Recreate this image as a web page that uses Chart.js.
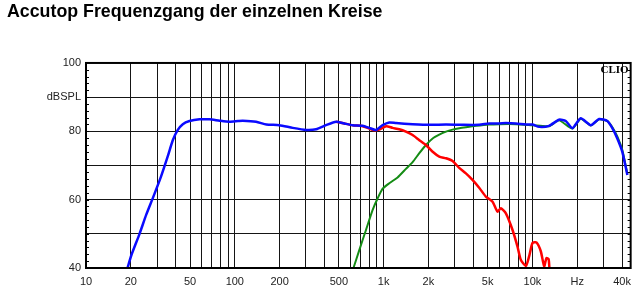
<!DOCTYPE html>
<html>
<head>
<meta charset="utf-8">
<title>Accutop Frequenzgang</title>
<script src="https://cdn.jsdelivr.net/npm/chart.js@4.4.1/dist/chart.umd.min.js"></script>
<style>
  body { margin: 0; background: #fff; }
  #wrap { width: 638px; height: 298px; }
</style>
</head>
<body>
<div id="wrap"><canvas id="grafico" width="638" height="298"></canvas></div>
<script>
// DATA
const titleText = "Accutop Frequenzgang der einzelnen Kreise";

const xTickValues = [10, 20, 30, 40, 50, 60, 70, 80, 90,
  100, 200, 300, 400, 500, 600, 700, 800, 900,
  1000, 2000, 3000, 4000, 5000, 6000, 7000, 8000, 9000,
  10000, 20000, 30000, 40000];
const xTickLabels = ["10", "20", "", "", "50", "", "", "", "",
  "100", "200", "", "", "500", "", "", "", "",
  "1k", "2k", "", "", "5k", "", "", "", "",
  "10k", "Hz", "", "40k"];

const yTickValues = [40, 50, 60, 70, 80, 90, 100];
const yTickLabels = ["40", "", "60", "", "80", "dBSPL", "100"];

// gesamt (blau)
const totalFreq = [19, 20.2, 22.9, 25.4, 28.2, 32, 35.5, 38.3, 41.4, 44.7, 49.6, 57.9, 67.6, 79, 92,
  105, 113, 139, 163, 199, 245, 301, 352, 410, 479, 544, 619, 722, 801, 889, 985,
  1091, 1211, 1566, 2028, 2625, 3391, 4386, 5117, 5970, 6630, 7740, 9040,
  10000, 11090, 12940, 15100, 16750, 18550, 21100, 24650, 28050, 31870, 34430, 37170, 40170, 43440];
const totalDb = [40, 43.8, 50.0, 55.6, 60.6, 66.9, 72.8, 77.4, 80.4, 82.1, 83.0, 83.5, 83.5, 83.1, 82.8,
  83.0, 83.1, 82.8, 82.0, 81.8, 81.0, 80.4, 80.6, 81.8, 82.8, 82.3, 81.8, 81.6, 81.0, 80.4, 81.8,
  82.6, 82.4, 82.1, 81.9, 82.0, 81.9, 81.9, 82.3, 82.3, 82.4, 82.3, 82.0,
  82.0, 81.3, 81.6, 83.4, 83.0, 80.9, 83.8, 81.8, 83.6, 83.0, 80.9, 77.9, 74.0, 67.2];

// tiefmitteltöner (rot)
const wooferFreq = [479, 544, 619, 722, 801, 863, 935, 1040, 1148, 1273, 1412, 1566, 1737, 1926,
  2135, 2365, 2625, 2904, 3220, 3571, 3955, 4386, 4862, 5395, 5820, 6133, 6630, 7340, 7930,
  8350, 9040, 9500, 10000, 10630, 11380, 11990, 12420, 12840, 13000];
const wooferDb = [82.8, 82.3, 81.8, 81.5, 80.8, 80.3, 80.5, 81.5, 81.0, 80.6, 79.9, 78.9, 77.4, 76.0,
  74.0, 72.6, 72.1, 71.3, 69.3, 67.7, 65.8, 63.5, 60.9, 59.4, 56.5, 57.5, 56.0, 51.2, 46.3,
  42.4, 40.6, 43.4, 47.3, 47.5, 44.9, 40.5, 42.9, 42.6, 40];

// hochtöner (grün)
const tweeterFreq = [627, 687, 762, 844, 912, 985, 1091, 1241, 1412, 1566, 1737, 1926, 2135, 2365,
  2625, 2904, 3220, 3571, 4170, 5117, 5970, 7740, 10000, 12940, 15100, 18550, 21100, 24650,
  28050, 31870, 34430, 37170, 40170, 43440];
const tweeterDb = [40, 45.3, 51.2, 57.0, 60.4, 63.2, 64.8, 66.5, 69.0, 71.0, 73.6, 76.0, 77.9, 79.0,
  79.9, 80.5, 80.9, 81.2, 81.6, 82.0, 82.1, 82.1, 81.8, 81.5, 83.2, 80.8, 83.7, 81.7,
  83.5, 83.0, 81.2, 78.5, 74.5, 67.5];

function toPoints(freq, db) {
  return freq.map((f, i) => ({ x: f, y: db[i] }));
}

// rahmen, kleine striche und CLIO
const rahmen = {
  id: "rahmen",
  afterDraw(chart) {
    const ctx = chart.ctx;
    const a = chart.chartArea;
    const y = chart.scales.y;
    ctx.save();
    ctx.strokeStyle = "#000";
    ctx.lineWidth = 1;
    for (let v = 42; v < 100; v += 2) {
      const py = Math.round(y.getPixelForValue(v)) + 0.5;
      ctx.beginPath();
      ctx.moveTo(a.left, py);
      ctx.lineTo(a.left + 3, py);
      ctx.moveTo(a.right - 3, py);
      ctx.lineTo(a.right, py);
      ctx.stroke();
    }
    ctx.lineWidth = 2;
    ctx.strokeRect(a.left, a.top, a.right - a.left, a.bottom - a.top);
    ctx.fillStyle = "#000";
    ctx.font = "bold 11px 'Liberation Serif', 'DejaVu Serif', serif";
    ctx.textAlign = "right";
    ctx.textBaseline = "middle";
    ctx.fillText("CLIO", a.right - 2, a.top + 7);
    ctx.restore();
  }
};

const ctx = document.getElementById("grafico").getContext("2d");

new Chart(ctx, {
  type: "line",
  data: {
    datasets: [
      {
        label: "Gesamt",
        data: toPoints(totalFreq, totalDb),
        borderColor: "#0a0aff",
        borderWidth: 2.5,
        pointRadius: 0,
        tension: 0.2
      },
      {
        label: "Tiefmitteltöner",
        data: toPoints(wooferFreq, wooferDb),
        borderColor: "#ff0000",
        borderWidth: 2.5,
        pointRadius: 0,
        tension: 0.2
      },
      {
        label: "Hochtöner",
        data: toPoints(tweeterFreq, tweeterDb),
        borderColor: "#148c14",
        borderWidth: 2,
        pointRadius: 0,
        tension: 0.2
      }
    ]
  },
  options: {
    responsive: false,
    animation: false,
    layout: { padding: { left: 7, right: 6, top: 0, bottom: 0 } },
    plugins: {
      legend: { display: false },
      tooltip: { enabled: false },
      title: {
        display: true,
        text: titleText,
        align: "start",
        color: "#000",
        font: { family: "Arial, 'Liberation Sans', sans-serif", size: 17.8, weight: "bold" },
        padding: { top: 1, bottom: 40.6 }
      }
    },
    scales: {
      x: {
        type: "logarithmic",
        min: 10,
        max: 45700,
        afterBuildTicks: (scale) => {
          scale.ticks = xTickValues.map(v => ({ value: v }));
        },
        afterFit: (scale) => { scale.height = 30; },
        ticks: {
          autoSkip: false,
          maxRotation: 0,
          padding: 7,
          color: "#222",
          font: { family: "Arial, 'Liberation Sans', sans-serif", size: 11 },
          callback: function(value) {
            const i = xTickValues.indexOf(value);
            return i >= 0 ? xTickLabels[i] : "";
          }
        },
        grid: { color: "#151515", lineWidth: 1, drawTicks: false },
        border: { display: false }
      },
      y: {
        min: 40,
        max: 100,
        afterBuildTicks: (scale) => {
          scale.ticks = yTickValues.map(v => ({ value: v }));
        },
        afterFit: (scale) => { scale.width = 79; },
        ticks: {
          autoSkip: false,
          padding: 5,
          color: "#222",
          font: { family: "Arial, 'Liberation Sans', sans-serif", size: 11 },
          callback: function(value) {
            const i = yTickValues.indexOf(value);
            return i >= 0 ? yTickLabels[i] : "";
          }
        },
        grid: { color: "#151515", lineWidth: 1, drawTicks: false },
        border: { display: false }
      }
    }
  },
  plugins: [rahmen]
});
</script>
</body>
</html>
